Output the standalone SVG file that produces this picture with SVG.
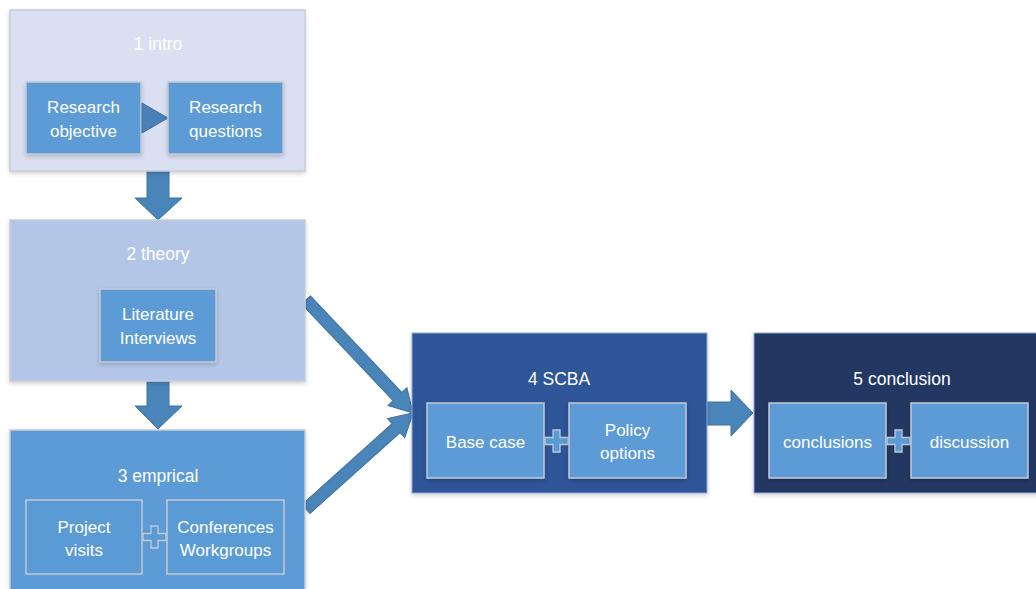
<svg xmlns="http://www.w3.org/2000/svg" width="1036" height="589" viewBox="0 0 1036 589">
<defs>
<style>
text{font-family:"Liberation Sans",Arial,sans-serif;font-size:17px;fill:#ffffff;text-anchor:middle}
.title{font-size:17.5px}
.outer{stroke:#c6ccd8;stroke-width:1.5}
.inner{fill:#5b9bd5;stroke:#c3c9d2;stroke-width:1.5}
.arrow{fill:#4a85b9;stroke:#41729f;stroke-width:1}
.plus{fill:#5b9bd5;stroke:#c3c9d2;stroke-width:1.3}
</style>
<filter id="sh" x="-10%" y="-10%" width="120%" height="130%">
<feDropShadow dx="0" dy="2" stdDeviation="2" flood-color="#000" flood-opacity="0.18"/>
</filter>
<path id="plusShape" d="M-3.5,-11 H3.5 V-3.5 H11.5 V3.5 H3.5 V11 H-3.5 V3.5 H-11.5 V-3.5 H-3.5 Z"/>
</defs>
<rect width="1036" height="589" fill="#ffffff"/>

<g id="connectors">
<path class="arrow" d="M147,171 H169 V198 H182 L158,220 L135,198 H147 Z"/>
<path class="arrow" d="M147,381 H169 V406 H182 L158,429 L135,406 H147 Z"/>
<path class="arrow" d="M707,402 H731 V390 L753,413 L731,436 V425 H707 Z"/>
<path class="arrow" transform="translate(306,300) rotate(46.56)" d="M0,-6 L133,-6 L133,-13 L155.6,0 L133,13 L133,6 L0,6 Z"/>
<path class="arrow" transform="translate(306,509) rotate(-41.9)" d="M0,-6 L121,-6 L121,-13 L143.8,0 L121,13 L121,6 L0,6 Z"/>
</g>

<g id="node1">
<rect class="outer" x="10" y="10" width="295" height="161" fill="#dae0f2" filter="url(#sh)"/>
<text class="title" x="158" y="50">1 intro</text>
<g id="node1a"><rect class="inner" x="26" y="82" width="115" height="72" filter="url(#sh)"/>
<text x="83.5" y="113">Research</text><text x="83.5" y="137">objective</text></g>
<path d="M142,103 L168,118 L142,133 Z" fill="#4a80b5" stroke="#3f6f9e" stroke-width="1"/>
<g id="node1b"><rect class="inner" x="168" y="82" width="115" height="72" filter="url(#sh)"/>
<text x="225.5" y="113">Research</text><text x="225.5" y="137">questions</text></g>
</g>

<g id="node2">
<rect class="outer" x="10" y="220" width="295" height="161" fill="#b4c6e7" filter="url(#sh)"/>
<text class="title" x="158" y="260">2 theory</text>
<g id="node2a"><rect class="inner" x="100" y="289" width="116" height="73" filter="url(#sh)"/>
<text x="158" y="320">Literature</text><text x="158" y="344">Interviews</text></g>
</g>

<g id="node3">
<rect class="outer" x="10" y="430" width="295" height="170" fill="#5b9bd5" filter="url(#sh)"/>
<text class="title" x="158" y="482">3 emprical</text>
<g id="node3a"><rect class="inner" x="26" y="500" width="116" height="74"/>
<text x="84" y="533">Project</text><text x="84" y="556">visits</text></g>
<use href="#plusShape" class="plus" x="154.5" y="537"/>
<g id="node3b"><rect class="inner" x="167" y="500" width="117" height="74"/>
<text x="225.5" y="533">Conferences</text><text x="225.5" y="556">Workgroups</text></g>
</g>

<g id="node4">
<rect x="412" y="333" width="295" height="160" fill="#2f5597" stroke="#8eaadb" stroke-width="1" filter="url(#sh)"/>
<text class="title" x="559" y="385">4 SCBA</text>
<g id="node4a"><rect class="inner" x="427" y="403" width="117" height="75" filter="url(#sh)"/>
<text x="485.5" y="448">Base case</text></g>
<use href="#plusShape" class="plus" x="556.5" y="441"/>
<g id="node4b"><rect class="inner" x="569" y="403" width="117" height="75" filter="url(#sh)"/>
<text x="627.5" y="436">Policy</text><text x="627.5" y="459">options</text></g>
</g>

<g id="node5">
<rect x="754" y="333" width="295" height="160" fill="#203864" stroke="#8eaadb" stroke-width="1" filter="url(#sh)"/>
<text class="title" x="902" y="385">5 conclusion</text>
<g id="node5a"><rect class="inner" x="769" y="403" width="117" height="75" filter="url(#sh)"/>
<text x="827.5" y="448">conclusions</text></g>
<use href="#plusShape" class="plus" x="898.5" y="441"/>
<g id="node5b"><rect class="inner" x="911" y="403" width="117" height="75" filter="url(#sh)"/>
<text x="969.5" y="448">discussion</text></g>
</g>
</svg>
